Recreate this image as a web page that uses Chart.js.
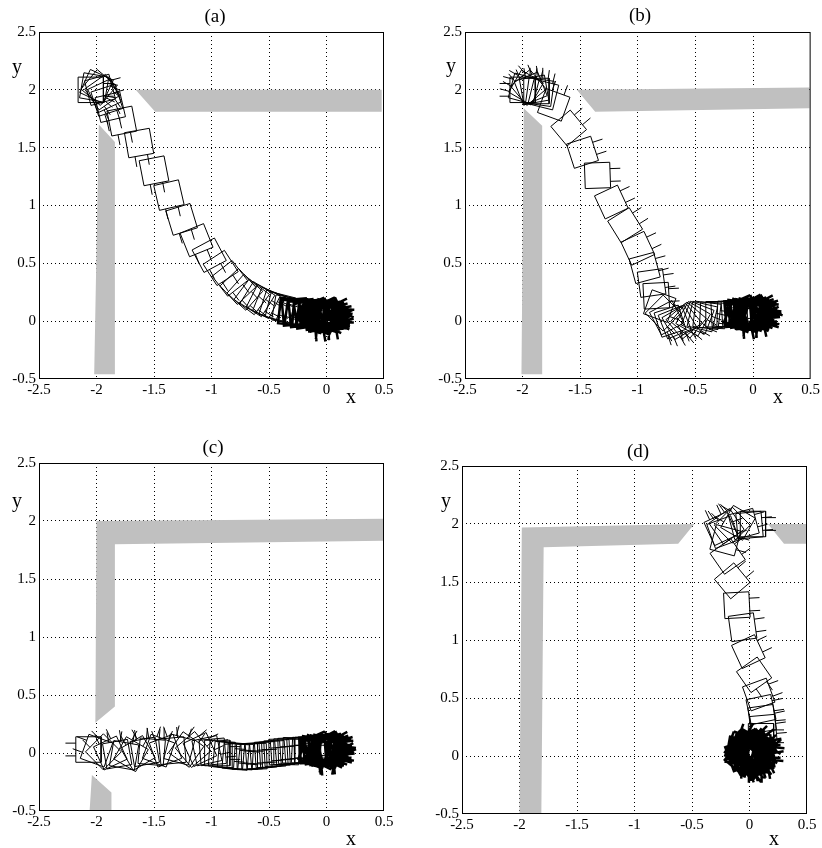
<!DOCTYPE html>
<html>
<head>
<meta charset="utf-8">
<script src="https://cdn.jsdelivr.net/npm/chart.js@4.4.1/dist/chart.umd.min.js"></script>
<style>
  html, body { margin: 0; padding: 0; background: #fff; }
  #fig { position: relative; width: 822px; height: 848px; overflow: hidden; background: #fff; }
  #fig canvas { position: absolute; }
  .txt { position: absolute; font-family: 'Liberation Serif', serif; line-height: 1; white-space: nowrap; transform: translateX(-50%); color: #000; }
  .ttl { font-size: 19px; }
  .ax { font-size: 20px; }
</style>
</head>
<body>
<div id="fig">
  <canvas id="pa" width="411" height="424" style="left:0;top:0"></canvas>
  <canvas id="pb" width="411" height="424" style="left:411px;top:0"></canvas>
  <canvas id="pc" width="411" height="424" style="left:0;top:424px"></canvas>
  <canvas id="pd" width="411" height="424" style="left:411px;top:424px"></canvas>

  <div class="txt ttl" id="ta" style="left:215px;top:6px"></div>
  <div class="txt ttl" id="tb" style="left:640px;top:5px"></div>
  <div class="txt ttl" id="tc" style="left:213px;top:437px"></div>
  <div class="txt ttl" id="td" style="left:638px;top:441px"></div>

  <div class="txt ax" style="left:17px;top:56px">y</div>
  <div class="txt ax" style="left:451px;top:55px">y</div>
  <div class="txt ax" style="left:17px;top:490px">y</div>
  <div class="txt ax" style="left:446px;top:490px">y</div>

  <div class="txt ax" style="left:351px;top:386px">x</div>
  <div class="txt ax" style="left:778px;top:386px">x</div>
  <div class="txt ax" style="left:351px;top:828px">x</div>
  <div class="txt ax" style="left:774px;top:828px">x</div>
</div>

<script>
// ---- data ----

const panelLabels = ['(a)', '(b)', '(c)', '(d)'];
const xTickLabels = ['-2.5', '-2', '-1.5', '-1', '-0.5', '0', '0.5'];
const yTickLabels = ['-0.5', '0', '0.5', '1', '1.5', '2', '2.5'];

// gray walls, one corner list per polygon: [x, y]
const wallsA = [
  [[-1.66, 2.0], [0.48, 2.0], [0.48, 1.81], [-1.49, 1.81]],
  [[-1.98, 1.70], [-1.84, 1.55], [-1.84, -0.46], [-2.02, -0.46]]
];
const wallsB = [
  [[-1.53, 2.0], [0.49, 2.02], [0.49, 1.84], [-1.37, 1.81]],
  [[-1.99, 1.84], [-1.83, 1.69], [-1.83, -0.46], [-2.01, -0.46]]
];
const wallsC = [
  [[-2.0, 2.0], [0.5, 2.02], [0.5, 1.83], [-1.84, 1.80], [-1.84, 0.40], [-2.01, 0.26]],
  [[-2.04, -0.19], [-1.87, -0.34], [-1.87, -0.5], [-2.06, -0.5]]
];
const wallsD = [
  [[-1.98, 1.97], [-0.48, 2.0], [-0.62, 1.83], [-1.79, 1.80], [-1.81, -0.5], [-2.0, -0.5]],
  [[0.16, 2.0], [0.5, 2.0], [0.5, 1.83], [0.30, 1.83]]
];

// robot poses while moving: [x, y, heading deg]
const posesA = [
  [-2.05, 2.00, 0], [-2.02, 2.02, -10], [-2.00, 2.03, -25], [-1.98, 2.02, -40],
  [-1.97, 2.00, 15], [-1.95, 1.98, -55], [-1.93, 1.95, -65], [-1.91, 1.91, -72],
  [-1.88, 1.85, -77], [-1.78, 1.73, -79], [-1.63, 1.54, -80], [-1.50, 1.30, -79],
  [-1.37, 1.09, -77], [-1.26, 0.88, -73], [-1.13, 0.70, -68], [-1.02, 0.57, -62],
  [-0.92, 0.46, -57], [-0.84, 0.37, -52], [-0.77, 0.30, -47], [-0.71, 0.25, -42],
  [-0.65, 0.21, -37], [-0.60, 0.19, -32], [-0.55, 0.17, -27], [-0.50, 0.15, -22],
  [-0.45, 0.13, -18], [-0.40, 0.12, -14], [-0.35, 0.10, -10]
];
const posesB = [
  [-2.00, 2.00, 180], [-1.99, 2.01, 165], [-1.97, 2.02, 150], [-1.95, 2.02, 130],
  [-1.93, 2.01, 112], [-1.90, 2.00, 100], [-1.88, 1.99, 90], [-1.85, 1.98, 82],
  [-1.82, 1.96, 76], [-1.73, 1.87, 70], [-1.60, 1.67, 40], [-1.48, 1.46, 18],
  [-1.35, 1.26, 2], [-1.23, 1.03, 25], [-1.11, 0.83, 32], [-1.00, 0.63, 25],
  [-0.94, 0.46, 15], [-0.88, 0.33, 8], [-0.84, 0.22, 3], [-0.81, 0.13, -20],
  [-0.78, 0.07, -45], [-0.75, 0.03, -62], [-0.72, 0.00, -72], [-0.68, -0.01, -68],
  [-0.64, -0.01, -60], [-0.60, 0.00, -50], [-0.56, 0.01, -40], [-0.52, 0.02, -30],
  [-0.48, 0.03, -21], [-0.44, 0.04, -13], [-0.40, 0.05, -7], [-0.35, 0.05, -3],
  [-0.30, 0.06, 0], [-0.25, 0.06, 3], [-0.20, 0.06, -2], [-0.16, 0.07, 4]
];
const posesC = [
  [-2.07, 0.03, 180], [-2.00, 0.02, 160], [-1.94, 0.01, 135], [-1.88, 0.00, 115],
  [-1.82, -0.01, 100], [-1.76, -0.02, 80], [-1.70, -0.01, 60], [-1.64, 0.00, 120],
  [-1.58, 0.01, 100], [-1.52, 0.01, 85], [-1.46, 0.02, 70], [-1.40, 0.02, 110],
  [-1.34, 0.02, 95], [-1.28, 0.03, 75], [-1.22, 0.03, 55], [-1.16, 0.03, 40],
  [-1.10, 0.03, 25], [-1.04, 0.02, 12], [-0.99, 0.01, 5], [-0.95, 0.00, 0],
  [-0.91, -0.01, -4], [-0.87, -0.02, -6], [-0.83, -0.02, -5], [-0.79, -0.03, -5],
  [-0.75, -0.03, -3], [-0.71, -0.03, 0], [-0.67, -0.03, 2], [-0.63, -0.03, 2],
  [-0.59, -0.02, 4], [-0.55, -0.02, 5], [-0.51, -0.01, 4], [-0.47, -0.01, 4],
  [-0.43, 0.00, 3], [-0.39, 0.01, 1], [-0.35, 0.01, -1], [-0.31, 0.02, 2],
  [-0.27, 0.02, -2], [-0.23, 0.02, 3], [-0.19, 0.02, -3], [-0.16, 0.03, 2]
];
const posesD = [
  [0.03, 2.00, 0], [0.00, 1.99, 5], [-0.05, 2.00, 15], [-0.10, 2.01, 150],
  [-0.15, 1.99, 135], [-0.20, 1.98, 125], [-0.25, 1.96, 115], [-0.23, 1.93, 20],
  [-0.21, 1.86, -15], [-0.19, 1.72, 35], [-0.15, 1.51, 40], [-0.11, 1.30, 3],
  [-0.06, 1.11, 8], [-0.01, 0.90, 25], [0.04, 0.70, -55], [0.08, 0.53, 20],
  [0.10, 0.40, 12], [0.11, 0.32, 8], [0.12, 0.24, 5], [0.10, 0.17, 0]
];

// robot poses once it has settled at the goal: [x, y, heading deg]
const settledA = [
  [-0.30, 0.08, -6], [-0.27, 0.08, 5], [-0.24, 0.07, -8], [-0.21, 0.07, 6],
  [-0.18, 0.07, -4], [-0.16, 0.06, 8], [-0.14, 0.06, -10], [-0.12, 0.06, 3],
  [-0.10, 0.05, -7], [-0.08, 0.05, 9], [-0.06, 0.05, -3], [-0.05, 0.04, 12],
  [-0.04, 0.05, -14], [-0.03, 0.04, 4], [-0.02, 0.05, -9], [-0.01, 0.04, 15],
  [0.00, 0.05, -18], [0.00, 0.04, 7], [0.01, 0.05, -5], [0.01, 0.04, 18],
  [0.02, 0.05, -12], [0.02, 0.04, 2], [0.03, 0.05, -20], [0.03, 0.04, 10],
  [0.04, 0.05, -2], [-0.05, 0.03, -85], [-0.02, 0.04, -95], [0.01, 0.03, -80],
  [-0.08, 0.06, 22], [-0.03, 0.03, -25], [0.02, 0.06, 25], [-0.12, 0.04, -20]
];
const settledB = [
  [-0.13, 0.07, 5], [-0.12, 0.06, -8], [-0.10, 0.07, 10], [-0.09, 0.06, -4],
  [-0.07, 0.07, 14], [-0.06, 0.06, -12], [-0.05, 0.07, 3], [-0.04, 0.06, -16],
  [-0.03, 0.07, 18], [-0.02, 0.06, -6], [-0.01, 0.07, 8], [0.00, 0.06, -20],
  [0.01, 0.07, 20], [0.01, 0.06, -2], [0.02, 0.07, 12], [0.03, 0.06, -14],
  [0.03, 0.07, 6], [0.04, 0.06, -9], [0.04, 0.07, 16], [0.05, 0.06, -18],
  [-0.04, 0.05, -85], [-0.01, 0.06, -95], [0.02, 0.05, -78],
  [-0.08, 0.08, 24], [-0.02, 0.05, -26], [0.02, 0.08, 28], [-0.11, 0.05, -22]
];
const settledC = [
  [-0.12, 0.03, 4], [-0.11, 0.02, -8], [-0.09, 0.03, 10], [-0.08, 0.02, -5],
  [-0.06, 0.03, 14], [-0.05, 0.02, -12], [-0.04, 0.03, 3], [-0.03, 0.02, -16],
  [-0.02, 0.03, 18], [-0.01, 0.02, -6], [0.00, 0.03, 8], [0.01, 0.02, -20],
  [0.02, 0.03, 20], [0.02, 0.02, -2], [0.03, 0.03, 12], [0.04, 0.02, -14],
  [0.04, 0.03, 6], [0.05, 0.02, -9], [0.05, 0.03, 16], [0.00, 0.01, -85],
  [0.03, 0.02, -100], [-0.03, 0.02, -80],
  [-0.07, 0.04, 24], [-0.02, 0.01, -26], [0.03, 0.04, 28], [-0.10, 0.01, -22]
];
const settledD = [
  [-0.08, 0.04, -10], [-0.07, 0.01, 20], [-0.06, 0.06, -35], [-0.05, 0.02, 40],
  [-0.04, -0.01, -60], [-0.03, 0.05, 5], [-0.02, 0.02, -80], [-0.01, 0.07, 30],
  [0.00, 0.00, -95], [0.01, 0.04, 15], [0.02, -0.02, -70], [0.03, 0.06, -25],
  [0.04, 0.02, -100], [0.05, 0.08, 45], [0.06, 0.00, -85], [0.07, 0.04, 0],
  [0.08, 0.01, -65], [0.09, 0.06, 10], [0.10, 0.03, -5], [0.05, -0.03, -90],
  [0.02, 0.03, -115], [0.00, 0.05, -50], [0.07, 0.07, -30], [-0.02, 0.08, 60],
  [-0.07, 0.07, 70], [-0.06, -0.02, -40], [-0.03, 0.00, 25], [0.00, 0.08, -15],
  [0.02, 0.05, 50], [0.04, -0.01, -30], [0.06, 0.05, -45], [0.08, 0.07, 35],
  [0.09, -0.01, -80], [0.01, 0.01, 65], [-0.05, 0.04, -20], [0.03, -0.03, -55]
];

// ---- drawing ----

const SIDE = 0.22;      // robot body edge (plot units)
const WHISKER = 0.09;   // sensor length beyond the front face
const WALL_GRAY = '#c0c0c0';

Chart.defaults.font.family = "'Liberation Serif', serif";
Chart.defaults.color = '#000';

function gap() { return { x: null, y: null }; }

function wallPoints(walls) {
  const pts = [];
  walls.forEach(poly => {
    poly.forEach(([x, y]) => pts.push({ x, y }));
    pts.push({ x: poly[0][0], y: poly[0][1] });
    pts.push(gap());
  });
  return pts;
}

// body square plus two whiskers out of the front face
function robotPoints(poses) {
  const pts = [];
  const h = SIDE / 2;
  poses.forEach(([cx, cy, deg]) => {
    const a = deg * Math.PI / 180;
    const ux = Math.cos(a), uy = Math.sin(a);
    const vx = -uy, vy = ux;
    const at = (p, q) => ({ x: cx + ux * p + vx * q, y: cy + uy * p + vy * q });
    pts.push(at(h, h), at(h, -h), at(-h, -h), at(-h, h), at(h, h), gap());
    [-0.25 * SIDE, 0.25 * SIDE].forEach(q => {
      pts.push(at(h, q), at(h + WHISKER, q), gap());
    });
  });
  return pts;
}

const framePlugin = {
  id: 'frame',
  afterDraw(chart) {
    const { ctx, chartArea: a } = chart;
    ctx.save();
    ctx.strokeStyle = '#000';
    ctx.lineWidth = 1;
    ctx.strokeRect(a.left + 0.5, a.top + 0.5, a.right - a.left - 1, a.bottom - a.top - 1);
    ctx.restore();
  }
};

function axis(labels, min, max, fitKey, fitSize, pad) {
  return {
    type: 'linear',
    min: min,
    max: max,
    ticks: {
      stepSize: 0.5,
      autoSkip: false,
      maxRotation: 0,
      padding: pad,
      font: { size: 15 },
      color: '#000',
      callback: (v, i) => labels[i]
    },
    grid: {
      drawTicks: false,
      lineWidth: 1,
      color: c => (c.index === 0 || c.index === labels.length - 1) ? 'rgba(0,0,0,0)' : '#000'
    },
    border: { display: false, dash: [1, 3] },
    afterFit: s => { s[fitKey] = fitSize; }
  };
}

function makePanel(id, titleId, label, walls, poses, settled, pad) {
  document.getElementById(titleId).textContent = label;
  new Chart(document.getElementById(id), {
    type: 'scatter',
    data: {
      datasets: [
        {
          type: 'line',
          data: robotPoints(settled),
          borderColor: '#000',
          borderWidth: 2.5,
          pointRadius: 0,
          fill: false,
          order: 0
        },
        {
          type: 'line',
          data: robotPoints(poses),
          borderColor: '#000',
          borderWidth: 1,
          pointRadius: 0,
          fill: false,
          order: 1
        },
        {
          type: 'line',
          data: wallPoints(walls),
          borderColor: 'rgba(0,0,0,0)',
          borderWidth: 1,
          backgroundColor: WALL_GRAY,
          pointRadius: 0,
          fill: 'shape',
          order: 2
        }
      ]
    },
    options: {
      responsive: false,
      animation: false,
      events: [],
      layout: { padding: pad },
      plugins: {
        legend: { display: false },
        tooltip: { enabled: false },
        title: { display: false }
      },
      scales: {
        x: axis(xTickLabels, -2.5, 0.5, 'height', 22, 2),
        y: axis(yTickLabels, -0.5, 2.5, 'width', 36, 3)
      }
    },
    plugins: [framePlugin]
  });
}

makePanel('pa', 'ta', panelLabels[0], wallsA, posesA, settledA, { left: 3, top: 32, right: 27, bottom: 23 });
makePanel('pb', 'tb', panelLabels[1], wallsB, posesB, settledB, { left: 18, top: 32, right: 11, bottom: 23 });
makePanel('pc', 'tc', panelLabels[2], wallsC, posesC, settledC, { left: 3, top: 39, right: 27, bottom: 15 });
makePanel('pd', 'td', panelLabels[3], wallsD, posesD, settledD, { left: 15, top: 42, right: 15, bottom: 12 });
</script>
</body>
</html>
